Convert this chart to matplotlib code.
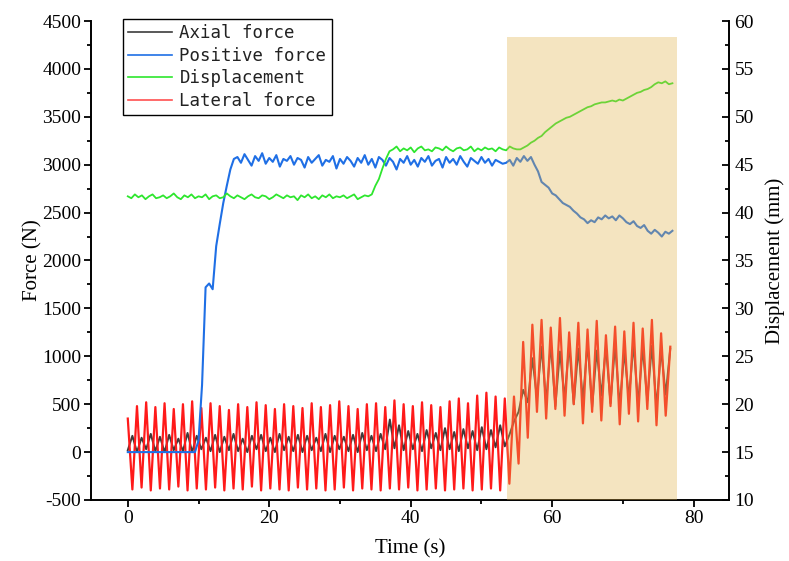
import numpy as np
import matplotlib
matplotlib.use('Agg')
import matplotlib.pyplot as plt
from matplotlib.lines import Line2D

plt.rcParams['axes.unicode_minus'] = False

# sample times (s)
osc_step = 0.65   # half period of the lateral/axial oscillation
slow_step = 0.5   # sampling of positive force and displacement

# Lateral force (N), alternating peaks/troughs
lateral = [350, -390, 480, -370, 520, -400, 470, -380, 510, -390,
           450, -360, 500, -400, 530, -380, 460, -390, 510, -370,
           480, -400, 440, -380, 500, -390, 470, -360, 520, -400,
           490, -380, 450, -390, 500, -400, 480, -370, 460, -390,
           510, -380, 470, -400, 490, -390, 530, -370, 480, -400,
           450, -380, 500, -390, 510, -400, 470, -380, 540, -390,
           500, -370, 480, -400, 520, -390, 490, -380, 470, -400,
           530, -390, 560, -380, 510, -400, 590, -390, 620, -380,
           580, -400, 560,
           -330, 580, -120, 1150, 150, 1330, 420, 1380, 350, 1300,
           450, 1400, 380, 1250, 500, 1350, 300, 1280, 420, 1370,
           330, 1220, 480, 1310, 290, 1260, 400, 1350, 320, 1290,
           450, 1380, 280, 1240, 380, 1100]

# Axial force (N)
axial = [20, 170, 0, 150, 30, 190, 10, 160, 0, 180,
         20, 140, 10, 200, 0, 170, 30, 150, 10, 180,
         0, 160, 20, 190, 10, 140, 0, 170, 30, 180,
         10, 150, 0, 190, 20, 160, 10, 180, 0, 170,
         20, 150, 10, 190, 0, 170, 30, 160, 10, 180,
         0, 200, 20, 170, 10, 190, 30, 340, 40, 280,
         20, 220, 30, 190, 10, 230, 40, 200, 20, 250,
         30, 210, 10, 240, 40, 220, 20, 260, 30, 230,
         50, 280, 60,
         180, 320, 420, 650, 520, 980, 560, 1100, 520, 1130,
         480, 1050, 560, 1120, 500, 1080, 540, 1140, 470, 1060,
         590, 1100, 510, 1120, 480, 1050, 560, 1130, 500, 1090,
         540, 1110, 470, 1070, 600, 1080]

# Positive force (N)
positive = [0, 0, 0, 0, 0, 0, 0, 0, 0, 0,
            0, 0, 0, 0, 0, 0, 0, 0, 0, 0,
            120, 700, 1720, 1760, 1700, 2150, 2380, 2600, 2780, 2950,
            3060,
            3080, 3020, 3110, 3050, 2990, 3090, 3040, 3120, 3010, 3070,
            3030, 3100, 2980, 3060, 3040, 3090, 3000, 3070, 3050, 2970,
            3080, 3020, 3060, 3100, 2990, 3050, 3030, 3090, 2960, 3060,
            3010, 3080, 3040, 2980, 3070, 3020, 3100, 3000, 3060, 2970,
            3080, 3050, 2990, 3070, 3030, 2950, 3060, 3020, 3090, 3000,
            3050, 2980, 3070, 3030, 3090, 2990, 3040, 3060, 2970, 3080,
            3020, 3060, 3000, 3090, 3030, 2980, 3070, 3040, 3010, 3080,
            3020, 3060, 2990, 3050, 3030, 3010,
            3020, 3050, 2990, 3070, 3030, 3090, 3040, 3080, 3000, 2930,
            2820, 2790, 2760, 2700, 2680, 2640, 2600, 2580, 2560, 2520,
            2490, 2450, 2430, 2390, 2420, 2400, 2450, 2430, 2470, 2440,
            2460, 2420, 2470, 2440, 2400, 2380, 2410, 2360, 2340, 2370,
            2310, 2280, 2320, 2290, 2250, 2300, 2280, 2310]

# Displacement (mm)
displacement = [41.7, 41.5, 41.9, 41.6, 41.8, 41.4, 41.7, 41.9, 41.5, 41.6,
                41.8, 41.5, 41.7, 42.0, 41.6, 41.4, 41.8, 41.6, 41.9, 41.5,
                41.7, 41.6, 41.9, 41.4, 41.7, 41.8, 41.5, 41.6, 42.0, 41.7,
                41.5, 41.8, 41.6, 41.4, 41.7, 41.9, 41.6, 41.5, 41.8, 41.7,
                41.4, 41.6, 41.9, 41.7, 41.5, 41.8, 41.6, 41.7, 41.3, 41.8,
                41.6, 41.9, 41.5, 41.7, 41.4, 41.8, 41.6, 41.9, 41.5, 41.7,
                41.6, 41.8, 41.5, 41.7, 41.9, 41.4, 41.6, 41.8, 41.7,
                41.9, 42.8, 43.5, 44.6, 45.6, 46.4,
                46.6, 46.9, 46.4, 46.7, 46.5, 46.8, 46.3, 46.7, 46.9, 46.5,
                46.6, 46.4, 46.8, 46.7, 46.5, 46.9, 46.6, 46.4, 46.7, 46.8,
                46.5, 46.6, 46.9, 46.4, 46.7, 46.5, 46.8, 46.6, 46.7, 46.4,
                46.8, 46.6, 46.5, 46.9, 46.7, 46.6,
                46.6, 46.8, 47.0, 47.3, 47.5, 47.8, 48.0, 48.4, 48.7, 49.0,
                49.3, 49.5, 49.7, 49.9, 50.0, 50.2, 50.4, 50.6, 50.8, 51.0,
                51.1, 51.3, 51.4, 51.5, 51.5, 51.6, 51.7, 51.6, 51.8, 51.7,
                51.9, 52.1, 52.3, 52.5, 52.6, 52.8, 52.9, 53.1, 53.4, 53.6,
                53.5, 53.7, 53.4, 53.5]

t_osc = np.arange(len(lateral)) * osc_step
t_slow = np.arange(len(positive)) * slow_step

c_axial = '#3c3c3c'
c_pos = '#1f6fe5'
c_disp = '#2ee62e'
c_lat = '#ff1a1a'

serif = 'Liberation Serif'
fig = plt.figure(figsize=(7.89, 5.61), dpi=100)
ax = fig.add_axes([91/789, 1-500/561, 638/789, 479/561])
ax2 = ax.twinx()

ax.plot(t_osc, axial, color=c_axial, lw=1.4, zorder=2)
ax.plot(t_osc, lateral, color=c_lat, lw=1.6, zorder=3)
ax.plot(t_slow, positive, color=c_pos, lw=1.5, zorder=4)
ax2.plot(t_slow, displacement, color=c_disp, lw=1.3, zorder=2)

# shaded region on top of everything
ax2.axvspan(53.6, 77.6, ymin=0, ymax=0.966, facecolor='#e2b24b', alpha=0.35,
            edgecolor='none', zorder=5)

ax.set_xlim(-5.2, 85)
ax.set_ylim(-500, 4500)
ax2.set_ylim(10, 60)
ax.set_xticks([0, 20, 40, 60, 80])
ax.set_xticks(np.arange(10, 81, 20), minor=True)
ax.set_yticks(np.arange(-500, 4501, 500))
ax.set_yticks(np.arange(-250, 4500, 500), minor=True)
ax2.set_yticks(np.arange(10, 61, 5))
ax2.set_yticks(np.arange(12.5, 60, 5), minor=True)

for a in (ax, ax2):
    a.spines['top'].set_visible(False)
    for s in a.spines.values():
        s.set_linewidth(1.4)
ax.spines['right'].set_visible(False)
ax2.spines['left'].set_visible(False)
ax2.spines['bottom'].set_visible(False)

ax.tick_params(axis='both', which='major', direction='out', length=5, width=1.3,
               labelsize=14, pad=2)
ax.tick_params(axis='both', which='minor', direction='out', length=3, width=1.3)
ax2.tick_params(axis='y', which='major', direction='in', length=5, width=1.3,
                labelsize=14, pad=4)
ax2.tick_params(axis='y', which='minor', direction='in', length=3, width=1.3)
for lab in ax.get_xticklabels() + ax.get_yticklabels() + ax2.get_yticklabels():
    lab.set_fontfamily(serif)

ax.set_xlabel('Time (s)', fontsize=15, family=serif, labelpad=9)
ax.set_ylabel('Force (N)', fontsize=15, family=serif, labelpad=0)
ax2.set_ylabel('Displacement (mm)', fontsize=15, family=serif, labelpad=8)

handles = [Line2D([], [], color=c_axial, lw=1.2),
           Line2D([], [], color=c_pos, lw=1.2),
           Line2D([], [], color=c_disp, lw=1.2),
           Line2D([], [], color='#ff5050', lw=1.2)]
labels = ['Axial force', 'Positive force', 'Displacement', 'Lateral force']
leg = ax2.legend(handles, labels, loc='upper left',
                 bbox_to_anchor=(123/789, 1-19/561), bbox_transform=fig.transFigure,
                 borderaxespad=0, prop={'family': 'DejaVu Sans Mono', 'size': 12.5},
                 handlelength=2.5, handletextpad=0.45, borderpad=0.3,
                 labelspacing=0.26, fancybox=False, framealpha=1,
                 edgecolor='black')
leg.get_frame().set_linewidth(1.0)
leg.set_zorder(10)
for txt in leg.get_texts():
    txt.set_color('#222222')

fig.savefig('out.png', dpi=100)
